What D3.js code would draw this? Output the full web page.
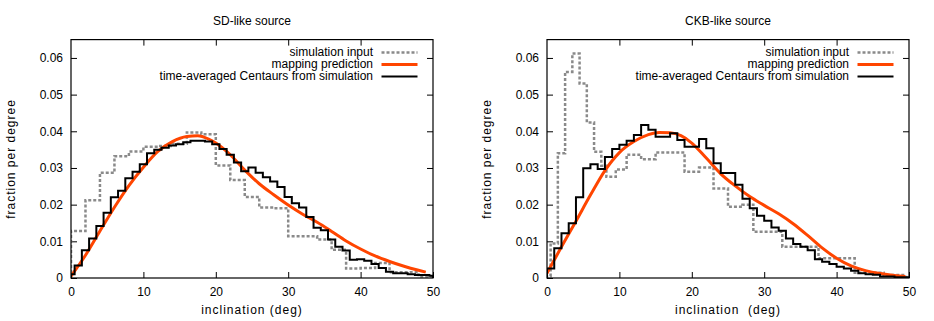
<!DOCTYPE html>
<html>
<head>
<meta charset="utf-8">
<script src="https://cdn.jsdelivr.net/npm/d3@7"></script>
<style>
body { margin: 0; background: #fff; }
text { font-family: "Liberation Sans", Arial, sans-serif; }
</style>
</head>
<body>
<script>
// axis ticks
const degTicks = [0, 10, 20, 30, 40, 50];
const fracTicks = [0, 0.01, 0.02, 0.03, 0.04, 0.05, 0.06];
const legendLabels = ["simulation input", "mapping prediction", "time-averaged Centaurs from simulation"];

// SD-like source
// time-averaged Centaurs, 1 deg bins centred on 0..50
const sdCentaurValues = [0.0010, 0.0034, 0.0076, 0.0108, 0.0142, 0.0178, 0.0220, 0.0238, 0.0272, 0.0290,
  0.0310, 0.0340, 0.0350, 0.0355, 0.0361, 0.0365, 0.0370, 0.0374, 0.0374, 0.0372,
  0.0365, 0.0352, 0.0336, 0.0315, 0.0291, 0.0301, 0.0287, 0.0275, 0.0263, 0.0248,
  0.0221, 0.0204, 0.0192, 0.0166, 0.0137, 0.0130, 0.0105, 0.0085, 0.0075, 0.0050,
  0.0051, 0.0047, 0.0038, 0.0027, 0.0017, 0.0013, 0.0013, 0.0010, 0.0008, 0.0008, 0.0006];
// simulation input, 2 deg bins from 0
const sdInputValues = [0.0128, 0.0212, 0.0287, 0.0332, 0.0345, 0.0358, 0.0360, 0.0366, 0.0397, 0.0392,
  0.0307, 0.0267, 0.0221, 0.0192, 0.0190, 0.0114, 0.0114, 0.0105, 0.0077, 0.0026,
  0.0027, 0.0041, 0.0016, 0.0016, 0.0004];
const sdPredDeg = [0, 2, 4, 6, 8, 10, 12, 14, 16, 17.5, 19, 20, 22, 24, 26, 28, 30, 32, 34, 36, 38, 40, 42, 44, 46, 48, 49];
const sdPredFrac = [0.0005, 0.0062, 0.0128, 0.0193, 0.0252, 0.0302, 0.0345, 0.0372, 0.0386, 0.0388, 0.0379, 0.0368,
  0.0336, 0.0294, 0.0257, 0.0227, 0.0199, 0.0174, 0.0152, 0.0127, 0.0101, 0.0079, 0.0060, 0.0045, 0.0032, 0.0021, 0.0016];

// CKB-like source
// time-averaged Centaurs, 1 deg bins from 0
const ckbCentaurValues = [0.0026, 0.0081, 0.0122, 0.0149, 0.0220, 0.0299, 0.0310, 0.0297, 0.0330, 0.0352,
  0.0363, 0.0374, 0.0390, 0.0417, 0.0404, 0.0385, 0.0385, 0.0395, 0.0376, 0.0358,
  0.0358, 0.0379, 0.0354, 0.0313, 0.0286, 0.0286, 0.0254, 0.0216, 0.0190, 0.0170,
  0.0156, 0.0138, 0.0129, 0.0108, 0.0093, 0.0085, 0.0076, 0.0051, 0.0044, 0.0038,
  0.0031, 0.0026, 0.0020, 0.0013, 0.0010, 0.0009, 0.0004, 0.0004, 0.0002, 0.0002];
// simulation input, uneven bins
const ckbInputEdges = [0, 0.5, 1.5, 2.5, 3.5, 4.5, 5.5, 6.5, 7.5, 8.2, 9.5, 11, 13, 15, 19, 21, 23, 25, 27, 28.5,
  32.5, 37.5, 42.5, 46.5, 49.5, 50];
const ckbInputValues = [0.0005, 0.0094, 0.0340, 0.0562, 0.0612, 0.0530, 0.0424, 0.0344, 0.0306, 0.0276,
  0.0296, 0.0336, 0.0324, 0.0342, 0.0290, 0.0301, 0.0244, 0.0194, 0.0200, 0.0126,
  0.0085, 0.0054, 0.0014, 0.0008, 0.0003];
const ckbPredDeg = [0, 2, 4, 6, 8, 10, 12, 14, 15.5, 17, 18.5, 20, 22, 24, 26, 28, 30, 32, 34, 36, 38, 40, 42, 44, 46, 48, 49.5];
const ckbPredFrac = [0.0013, 0.0085, 0.0155, 0.0226, 0.0293, 0.0342, 0.0372, 0.0391, 0.0397, 0.0396, 0.0388, 0.0368,
  0.0327, 0.0284, 0.0251, 0.0222, 0.0198, 0.0175, 0.0148, 0.0116, 0.0082, 0.0054, 0.0033, 0.0020, 0.0012, 0.0007, 0.0004];

const sdCentaurEdges = [0].concat(d3.range(0.5, 50, 1), [50]);
const sdInputEdges = d3.range(0, 51, 2);
const ckbCentaurEdges = d3.range(0, 51, 1);

const panels = [
  { title: "SD-like source", xlabel: "inclination (deg)", left: 71,
    input: [sdInputEdges, sdInputValues], centaur: [sdCentaurEdges, sdCentaurValues], pred: [sdPredDeg, sdPredFrac] },
  { title: "CKB-like source", xlabel: "inclination  (deg)", left: 547,
    input: [ckbInputEdges, ckbInputValues], centaur: [ckbCentaurEdges, ckbCentaurValues], pred: [ckbPredDeg, ckbPredFrac] }
];

const svg = d3.select("body").append("svg")
  .attr("width", 934).attr("height", 321)
  .style("display", "block");

const plotW = 362, plotTop = 39.6, plotBottom = 278;
const grey = "#8a8a8a", orange = "#ff4500";

const stepPoints = (edges, values) => {
  const pts = [[edges[0], 0]];
  values.forEach((v, i) => { pts.push([edges[i], v], [edges[i + 1], v]); });
  pts.push([edges[edges.length - 1], 0]);
  return pts;
};

panels.forEach((p, k) => {
  const x = d3.scaleLinear().domain([0, 50]).range([p.left, p.left + plotW]);
  const y = d3.scaleLinear().domain([0, 0.065]).range([plotBottom, plotTop]);
  const g = svg.append("g");

  // clip
  g.append("clipPath").attr("id", "clip" + k)
    .append("rect").attr("x", p.left).attr("y", plotTop).attr("width", plotW).attr("height", plotBottom - plotTop);

  // axes, ticks inward and mirrored
  const ax = (sel) => {
    sel.select(".domain").remove();
    sel.selectAll("line").attr("stroke", "#000").attr("stroke-width", 1);
    sel.selectAll("text").attr("fill", "#000").style("font-size", "12px")
      .style("font-family", '"Liberation Sans", Arial, sans-serif');
  };
  g.append("g").attr("transform", `translate(0,${plotBottom})`)
    .call(d3.axisBottom(x).tickValues(degTicks).tickSize(-6).tickPadding(9)).call(ax);
  g.append("g").attr("transform", `translate(0,${plotTop})`)
    .call(d3.axisTop(x).tickValues(degTicks.slice(1, -1)).tickSize(-6).tickFormat("")).call(ax);
  g.append("g").attr("transform", `translate(${p.left},0)`)
    .call(d3.axisLeft(y).tickValues(fracTicks).tickSize(-6).tickPadding(8)
      .tickFormat(d => d === 0 ? "0" : d3.format(".2f")(d))).call(ax);
  g.append("g").attr("transform", `translate(${p.left + plotW},0)`)
    .call(d3.axisRight(y).tickValues(fracTicks.slice(1)).tickSize(-6).tickFormat("")).call(ax);

  const line = d3.line().x(d => x(d[0])).y(d => y(d[1]));
  const plot = g.append("g").attr("clip-path", `url(#clip${k})`);

  plot.append("path")
    .attr("d", line(stepPoints(p.input[0], p.input[1])))
    .attr("fill", "none").attr("stroke", grey).attr("stroke-width", 2.5)
    .attr("stroke-dasharray", "3,2");

  const predPts = p.pred[0].map((d, i) => [d, p.pred[1][i]]);
  plot.append("path")
    .attr("d", line.curve(d3.curveMonotoneX)(predPts))
    .attr("fill", "none").attr("stroke", orange).attr("stroke-width", 3);
  line.curve(d3.curveLinear);

  plot.append("path")
    .attr("d", line(stepPoints(p.centaur[0], p.centaur[1])))
    .attr("fill", "none").attr("stroke", "#000").attr("stroke-width", 2);

  // frame
  g.append("rect")
    .attr("x", p.left).attr("y", plotTop).attr("width", plotW).attr("height", plotBottom - plotTop)
    .attr("fill", "none").attr("stroke", "#000").attr("stroke-width", 1.2);

  // legend
  const right = p.left + plotW;
  const legStyles = [
    { c: grey, w: 2.5, dash: "3,2" },
    { c: orange, w: 3, dash: null },
    { c: "#000", w: 2, dash: null }
  ];
  legendLabels.forEach((t, i) => {
    g.append("text").attr("x", right - 60).attr("y", 56.3 + i * 11.7)
      .attr("text-anchor", "end").style("font-size", "12px").text(t);
    g.append("line")
      .attr("x1", right - 51.5).attr("x2", right - 15.5)
      .attr("y1", 52.6 + i * 12).attr("y2", 52.6 + i * 12)
      .attr("stroke", legStyles[i].c).attr("stroke-width", legStyles[i].w)
      .attr("stroke-dasharray", legStyles[i].dash);
  });

  // titles and axis labels
  g.append("text").attr("x", p.left + plotW / 2).attr("y", 25)
    .attr("text-anchor", "middle").style("font-size", "12px").text(p.title);
  g.append("text").attr("x", p.left + plotW / 2).attr("y", 314)
    .attr("text-anchor", "middle").style("font-size", "12px").style("letter-spacing", "1px")
    .style("white-space", "pre").text(p.xlabel);
  g.append("text")
    .attr("transform", `translate(${p.left - 56},159) rotate(-90)`)
    .attr("text-anchor", "middle").style("font-size", "12px").style("letter-spacing", "1px")
    .text("fraction per degree");
});
</script>
</body>
</html>
